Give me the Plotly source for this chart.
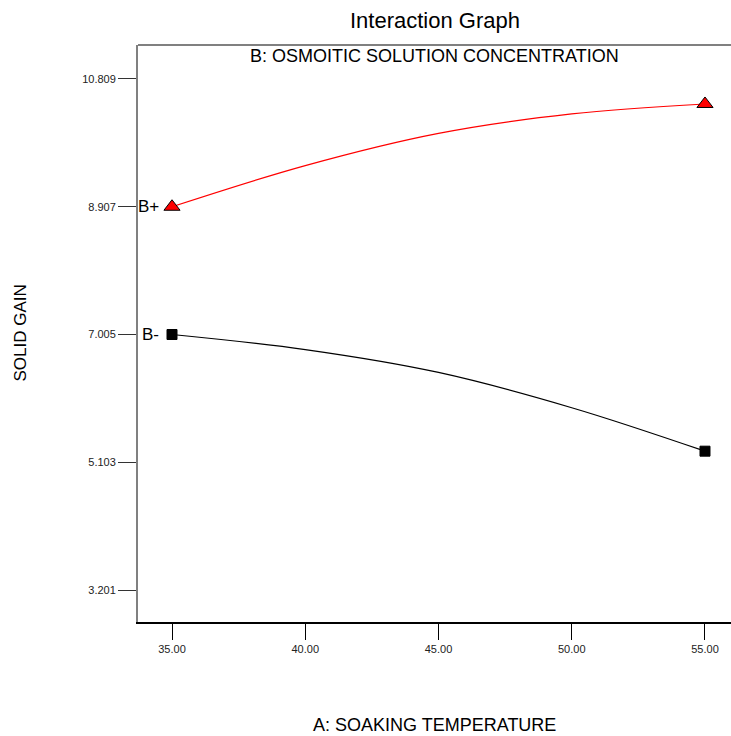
import plotly.graph_objects as go

# Data
x_tickvals = [35.0, 40.0, 45.0, 50.0, 55.0]
x_ticktext = ["35.00", "40.00", "45.00", "50.00", "55.00"]
y_tickvals = [3.201, 5.103, 7.005, 8.907, 10.809]
y_ticktext = ["3.201", "5.103", "7.005", "8.907", "10.809"]

curve_x = [35.0, 40.0, 45.0, 50.0, 55.0]
b_plus_curve = [8.907, 9.52, 10.0, 10.29, 10.437]
b_minus_curve = [7.005, 6.78, 6.44, 5.915, 5.268]

end_x = [35.0, 55.0]
b_plus_ends = [8.907, 10.437]
b_minus_ends = [7.005, 5.268]

FONT = "Arial, 'Liberation Sans', sans-serif"

fig = go.Figure()
fig.add_trace(go.Scatter(x=curve_x, y=b_plus_curve, mode="lines",
                         line=dict(color="#ff0000", width=1.2, shape="spline", smoothing=1.0),
                         hoverinfo="skip", showlegend=False))
fig.add_trace(go.Scatter(x=curve_x, y=b_minus_curve, mode="lines",
                         line=dict(color="#000000", width=1.2, shape="spline", smoothing=1.0),
                         hoverinfo="skip", showlegend=False))
fig.add_trace(go.Scatter(x=end_x, y=b_plus_ends, mode="markers",
                         marker=dict(symbol="triangle-up", size=14, color="#ff0000",
                                     line=dict(color="#000000", width=1)),
                         cliponaxis=False, showlegend=False))
fig.add_trace(go.Scatter(x=end_x, y=b_minus_ends, mode="markers",
                         marker=dict(symbol="square", size=10, color="#000000",
                                     line=dict(color="#000000", width=1)),
                         cliponaxis=False, showlegend=False))

annotations = [
    dict(text="Interaction Graph", xref="paper", yref="paper", x=0.5, y=1,
         yshift=25, yanchor="middle", xanchor="center", showarrow=False,
         font=dict(family=FONT, size=22, color="#000")),
    dict(text="B: OSMOITIC SOLUTION CONCENTRATION", xref="paper", yref="paper",
         x=0.5, y=1, yshift=-11, yanchor="middle", xanchor="center", showarrow=False,
         font=dict(family=FONT, size=18, color="#000")),
    dict(text="SOLID GAIN", xref="paper", yref="paper", x=0, xshift=-118, y=0.5,
         xanchor="center", yanchor="middle", textangle=-90, showarrow=False,
         font=dict(family=FONT, size=17, color="#000")),
    dict(text="A: SOAKING TEMPERATURE", xref="paper", yref="paper", x=0.5, y=0,
         yshift=-103, xanchor="center", yanchor="middle", showarrow=False,
         font=dict(family=FONT, size=18, color="#000")),
    dict(text="B+", xref="x", yref="y", x=end_x[0], y=b_plus_ends[0], xshift=-11,
         xanchor="right", yanchor="middle", showarrow=False,
         font=dict(family=FONT, size=17, color="#000")),
    dict(text="B-", xref="x", yref="y", x=end_x[0], y=b_minus_ends[0], xshift=-11,
         xanchor="right", yanchor="middle", showarrow=False,
         font=dict(family=FONT, size=17, color="#000")),
]

fig.update_layout(
    width=731, height=736,
    margin=dict(l=138, r=0, t=45, b=114),
    paper_bgcolor="white", plot_bgcolor="white",
    font=dict(family=FONT, color="#000"),
    annotations=annotations,
    shapes=[dict(type="line", xref="paper", yref="paper", x0=0, x1=1.02, y0=1, y1=1,
                 line=dict(color="#808080", width=2))],
    xaxis=dict(range=[33.724, 55.976], tickvals=x_tickvals, ticktext=x_ticktext,
               showgrid=False, zeroline=False, showline=True, linecolor="#000000",
               linewidth=2, ticks="outside", ticklen=16, tickcolor="#000000",
               tickwidth=1, tickfont=dict(family=FONT, size=11, color="#222")),
    yaxis=dict(range=[2.725, 11.315], tickvals=y_tickvals, ticktext=y_ticktext,
               showgrid=False, zeroline=False, showline=True, linecolor="#808080",
               linewidth=2, ticks="outside", ticklen=18, tickcolor="#333333",
               tickwidth=1, tickfont=dict(family=FONT, size=11, color="#222")),
)

fig.write_html("out.html")
